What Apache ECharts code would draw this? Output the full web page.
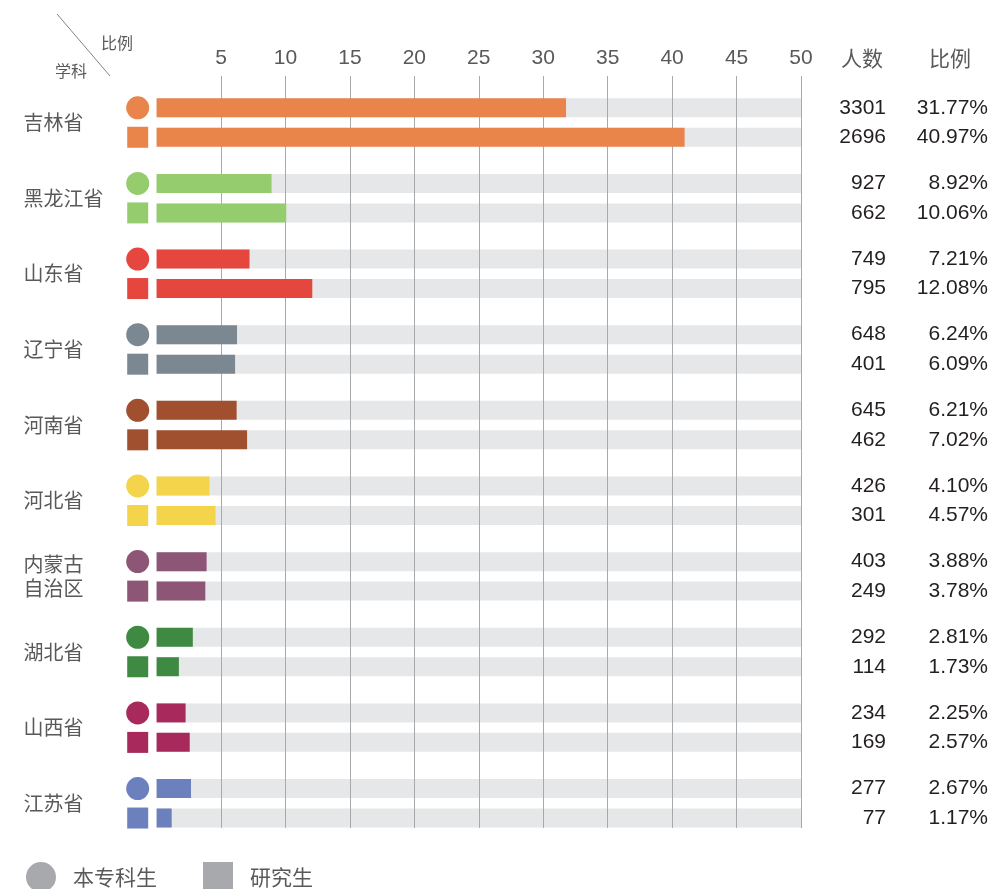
<!DOCTYPE html>
<html>
<head>
<meta charset="utf-8">
<script src="https://cdn.jsdelivr.net/npm/echarts@6/dist/echarts.min.js"></script>
<style>
  html, body { margin: 0; padding: 0; background: #fff; }
  #main { width: 991px; height: 889px; }
</style>
</head>
<body>
<div id="main"></div>
<script>
// 省份 & 颜色
const provinces = ['吉林省', '黑龙江省', '山东省', '辽宁省', '河南省', '河北省', '内蒙古\n自治区', '湖北省', '山西省', '江苏省'];
const colors = ['#e9844b', '#95cd6e', '#e5473f', '#7b8891', '#a1502f', '#f3d44b', '#8d5677', '#3f8a43', '#a8295b', '#6c80bd'];
// 本专科生
const underCount = [3301, 927, 749, 648, 645, 426, 403, 292, 234, 277];
const underPct = [31.77, 8.92, 7.21, 6.24, 6.21, 4.10, 3.88, 2.81, 2.25, 2.67];
// 研究生
const gradCount = [2696, 662, 795, 401, 462, 301, 249, 114, 169, 77];
const gradPct = [40.97, 10.06, 12.08, 6.09, 7.02, 4.57, 3.78, 1.73, 2.57, 1.17];
const axisMax = 50;
const axisStep = 5;

const numFont = "'Liberation Sans', 'Noto Sans CJK SC', sans-serif";
const cjkFont = "'Noto Sans CJK SC', sans-serif";
const textGray = '#58595b';
const bgGray = '#e6e7e8';

const myChart = echarts.init(document.getElementById('main'));

const barTop = 84.7, barHeight = 756.4;
const barW = 19, gap = '55%';

myChart.setOption({
  animation: false,
  grid: [
    // 竖线网格
    { left: 156.6, right: 190, top: 76, bottom: 61 },
    // 条形
    { left: 156.6, right: 190, top: barTop, height: barHeight },
    // 左侧圆点/方块
    { left: 119.7, width: 36, top: barTop, height: barHeight }
  ],
  xAxis: [
    {
      gridIndex: 0, type: 'value', position: 'top', min: 0, max: axisMax, interval: axisStep, z: 2,
      axisLine: { show: false }, axisTick: { show: false },
      axisLabel: { showMinLabel: false, fontSize: 21, color: textGray, fontFamily: numFont, margin: 7 },
      splitLine: { show: true, showMinLine: false, lineStyle: { color: '#a7a9ac', width: 1 } }
    },
    { gridIndex: 1, type: 'value', min: 0, max: axisMax, show: false },
    { gridIndex: 2, type: 'value', min: 0, max: 1, show: false }
  ],
  yAxis: [
    { gridIndex: 0, type: 'value', min: 0, max: 1, show: false },
    {
      gridIndex: 1, type: 'category', data: provinces, inverse: true,
      axisLine: { show: false }, axisTick: { show: false },
      axisLabel: { align: 'left', margin: 133, fontSize: 20, lineHeight: 24, color: textGray, fontFamily: cjkFont }
    },
    {
      gridIndex: 1, type: 'category', data: provinces, inverse: true, position: 'right',
      axisLine: { show: false }, axisTick: { show: false },
      axisLabel: {
        margin: 19, align: 'left',
        formatter: (v, i) =>
          '{n|' + underCount[i] + '}{p|' + underPct[i].toFixed(2) + '%}\n' +
          '{n|' + gradCount[i] + '}{p|' + gradPct[i].toFixed(2) + '%}',
        rich: {
          n: { width: 66, align: 'right', fontSize: 21, lineHeight: 29.5, color: '#231f20', fontFamily: numFont },
          p: { width: 102, align: 'right', fontSize: 21, lineHeight: 29.5, color: '#231f20', fontFamily: numFont }
        }
      }
    },
    { gridIndex: 2, type: 'category', data: provinces, inverse: true, show: false }
  ],
  legend: {
    left: 26, top: 862, padding: 0, itemWidth: 30, itemHeight: 30, itemGap: 46, selectedMode: false,
    textStyle: { fontSize: 21, color: textGray, fontFamily: cjkFont, padding: [0, 0, 0, 12] },
    data: [
      { name: '本专科生', icon: 'circle', itemStyle: { color: '#a7a9ac' } },
      { name: '研究生', icon: 'rect', itemStyle: { color: '#a7a9ac' } }
    ]
  },
  graphic: [
    { type: 'line', shape: { x1: 57, y1: 14, x2: 110, y2: 76 }, style: { stroke: '#808285', lineWidth: 1 } },
    { type: 'text', x: 117, y: 43, style: { text: '比例', fontSize: 16, fontFamily: cjkFont, fill: textGray, align: 'center', verticalAlign: 'middle' } },
    { type: 'text', x: 71, y: 71, style: { text: '学科', fontSize: 16, fontFamily: cjkFont, fill: textGray, align: 'center', verticalAlign: 'middle' } },
    { type: 'text', x: 862, y: 58, style: { text: '人数', fontSize: 21, fontFamily: cjkFont, fill: textGray, align: 'center', verticalAlign: 'middle' } },
    { type: 'text', x: 950, y: 58, style: { text: '比例', fontSize: 21, fontFamily: cjkFont, fill: textGray, align: 'center', verticalAlign: 'middle' } }
  ],
  series: [
    // 灰色底条
    {
      type: 'bar', name: 'bg1', xAxisIndex: 1, yAxisIndex: 2, barWidth: barW, barGap: gap, z: 1, silent: true,
      itemStyle: { color: bgGray }, data: provinces.map(() => axisMax)
    },
    {
      type: 'bar', name: 'bg2', xAxisIndex: 1, yAxisIndex: 2, barWidth: barW, barGap: gap, z: 1, silent: true,
      itemStyle: { color: bgGray }, data: provinces.map(() => axisMax)
    },
    // 彩色条
    {
      type: 'bar', name: '本专科生', xAxisIndex: 1, yAxisIndex: 1, barWidth: barW, barGap: gap, z: 3,
      data: underPct.map((v, i) => ({ value: v, itemStyle: { color: colors[i] } }))
    },
    {
      type: 'bar', name: '研究生', xAxisIndex: 1, yAxisIndex: 1, barWidth: barW, barGap: gap, z: 3,
      data: gradPct.map((v, i) => ({ value: v, itemStyle: { color: colors[i] } }))
    },
    // 左侧标记
    {
      type: 'scatter', name: '本专科生', xAxisIndex: 2, yAxisIndex: 3, symbol: 'circle', symbolSize: 23,
      symbolOffset: [0, -14.75], silent: true,
      data: provinces.map((p, i) => ({ value: [0.5, i], itemStyle: { color: colors[i], opacity: 1 } }))
    },
    {
      type: 'scatter', name: '研究生', xAxisIndex: 2, yAxisIndex: 3, symbol: 'rect', symbolSize: 21,
      symbolOffset: [0, 14.75], silent: true,
      data: provinces.map((p, i) => ({ value: [0.5, i], itemStyle: { color: colors[i], opacity: 1 } }))
    }
  ]
});
</script>
</body>
</html>
